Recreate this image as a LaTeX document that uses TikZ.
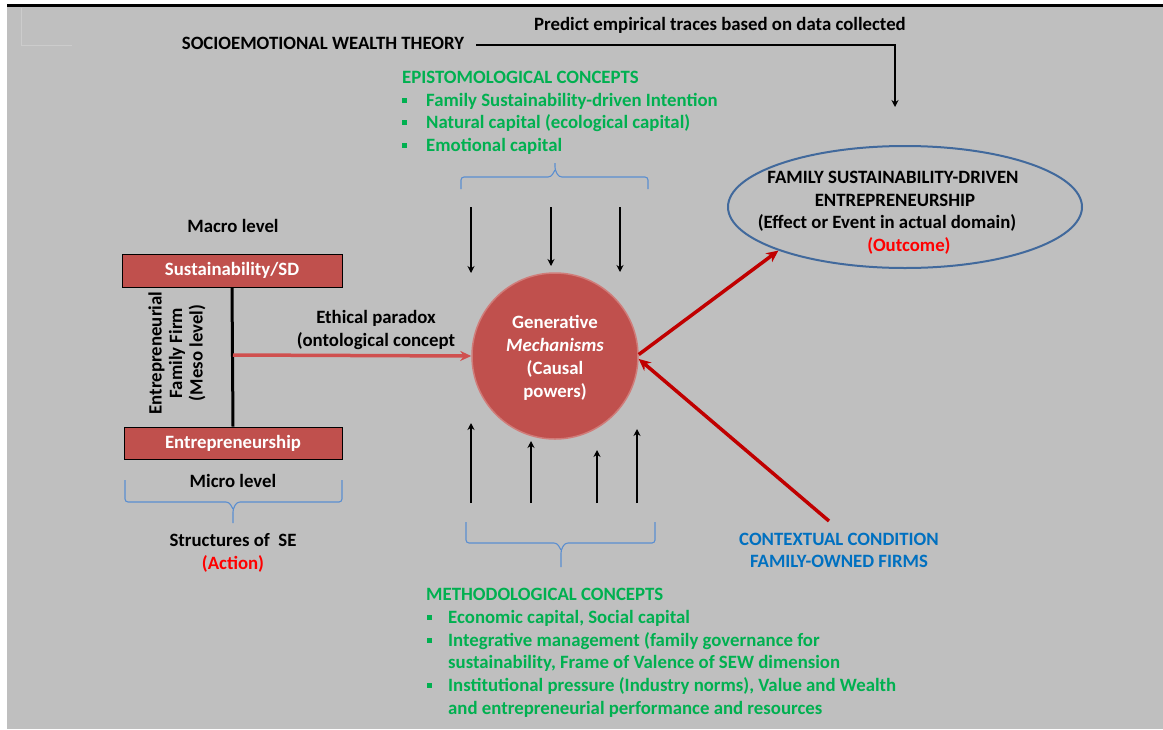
\documentclass[tikz,border=0pt]{standalone}
\usepackage{fontspec}
\setmainfont{Carlito}
\usetikzlibrary{arrows.meta,shapes.geometric}
\definecolor{bg}{HTML}{BFBFBF}
\definecolor{boxred}{HTML}{C0504D}
\definecolor{ethred}{HTML}{D0504F}
\definecolor{darkred}{HTML}{C00000}
\definecolor{grn}{HTML}{00B050}
\definecolor{ctxblue}{HTML}{0070C0}
\definecolor{ellblue}{HTML}{41699C}
\definecolor{brblue}{HTML}{5A8ED0}
\tikzset{
  txt/.style={font=\bfseries\fontsize{18.8}{20.5}\selectfont, inner sep=0pt, anchor=base},
  gtxt/.style={txt, text=grn, anchor=base west},
  redbox/.style={draw=black, line width=1, fill=boxred, text=white, inner sep=0pt, font=\bfseries\fontsize{18.8}{20.5}\selectfont},
  blk/.style={line width=2.6, -{Stealth[length=7pt,width=7pt]}},
  brace/.style={draw=brblue, line width=1.1, rounded corners=3pt},
  redarr/.style={darkred, line width=3.5, -{Stealth[length=12pt,width=11pt]}},
}
\begin{document}
\begin{tikzpicture}[x=1pt,y=-1pt]
\useasboundingbox (0,0) rectangle (1163,729);
\fill[white] (0,0) rectangle (1163,729);
\fill[bg] (7,7) rectangle (1163,729);
\draw[line width=3] (7,5.5) -- (1163,5.5);
\draw[bg!80!white, line width=0.8] (21,8) -- (21,45) -- (72,45);

% top
\node[txt] (sew) at (323,49) {SOCIOEMOTIONAL WEALTH THEORY};
\node[txt] (pred) at (720,30) {Predict empirical traces based on data collected};
\coordinate (sewtip) at (895,107);
\draw[blk] (476,45) coordinate (sewstart) -| (sewtip);

% epistemological
\node[txt, text=grn, anchor=base west] (epi) at (402,83) {EPISTOMOLOGICAL CONCEPTS};
\node[gtxt] (e1) at (426,106) {Family Sustainability-driven Intention};
\node[gtxt] (e2) at (426,128) {Natural capital (ecological capital)};
\node[gtxt] (e3) at (426,151) {Emotional capital};
\foreach \yy in {100,122,145} \fill[grn] (402,\yy-2.5) rectangle ++(5,5);
% top brace
\draw[brace] (461,189) -- (461,177) -- (551,177) -- (555,170);
\draw[brace] (555,163) -- (555,170) -- (559,177) -- (648,177) -- (648,189);

% down arrows
\coordinate (d1s) at (471,207); \coordinate (d1e) at (471,273);
\coordinate (d2s) at (551,207); \coordinate (d2e) at (551,266);
\coordinate (d3s) at (620,207); \coordinate (d3e) at (620,272);
\draw[blk] (d1s) -- (d1e);
\draw[blk] (d2s) -- (d2e);
\draw[blk] (d3s) -- (d3e);

% circle
\node[circle, fill=boxred, draw=boxred!75!white, line width=1.5, minimum size=166, inner sep=0pt] (gm) at (555,356) {};
\node[txt, text=white] (g1) at (555,328) {Generative};
\node[txt, text=white] (g2) at (555,351) {\itshape Mechanisms};
\node[txt, text=white] (g3) at (555,374) {(Causal};
\node[txt, text=white] (g4) at (555,397) {powers)};

% up arrows
\coordinate (u1s) at (471,503); \coordinate (u1e) at (471,423);
\coordinate (u2s) at (531,503); \coordinate (u2e) at (531,441);
\coordinate (u3s) at (597,503); \coordinate (u3e) at (597,450);
\coordinate (u4s) at (637,503); \coordinate (u4e) at (637,429);
\draw[blk] (u1s) -- (u1e);
\draw[blk] (u2s) -- (u2e);
\draw[blk] (u3s) -- (u3e);
\draw[blk] (u4s) -- (u4e);
% bottom brace
\draw[brace] (466,522) -- (466,543) -- (557,543) -- (561,550);
\draw[brace] (561,567) -- (561,550) -- (565,543) -- (655,543) -- (655,522);

% methodological
\node[txt, text=grn, anchor=base west] (met) at (426,600) {METHODOLOGICAL CONCEPTS};
\node[gtxt] (m1) at (448,623) {Economic capital, Social capital};
\node[gtxt] (m2) at (448,646) {Integrative management (family governance for};
\node[gtxt] (m2b) at (448,668) {sustainability, Frame of Valence of SEW dimension};
\node[gtxt] (m3) at (448,691) {Institutional pressure (Industry norms), Value and Wealth};
\node[gtxt] (m3b) at (448,714) {and entrepreneurial performance and resources};
\foreach \yy in {617,640,685} \fill[grn] (427,\yy-2.5) rectangle ++(5,5);

% left block
\node[txt] (macro) at (233,232) {Macro level};
\node[redbox, minimum width=220, minimum height=33] (sus) at (232,270.5) {Sustainability/SD};
\node[redbox, minimum width=218, minimum height=32] (ent) at (233,443) {Entrepreneurship};
\draw[line width=3] (sus.south) -- (ent.north);
\node[txt, rotate=90, align=center, anchor=center] (meso) at (177,353) {Entrepreneurial\\Family Firm\\(Meso level)};
\coordinate (mid) at (233,355);
\draw[ethred, line width=3.5, -{Stealth[length=11pt,width=10pt]}] (mid) -- (gm.west);
\node[txt] (eth1) at (376,323) {Ethical paradox};
\node[txt] (eth2) at (376,346) {(ontological concept};
\node[txt] (micro) at (233,487) {Micro level};
\draw[brace] (125,480) -- (125,502) -- (229,502) -- (233,509);
\draw[brace] (233,523) -- (233,509) -- (237,502) -- (342,502) -- (342,480);
\node[txt] (struct) at (233,546) {Structures of ~SE};
\node[txt, text=red] (action) at (233,569) {(Action)};

% ellipse
\node[ellipse, draw=ellblue, line width=2, minimum width=354, minimum height=122, inner sep=0pt] (out) at (905,207) {};
\node[txt] (o1) at (893,183) {FAMILY SUSTAINABILITY-DRIVEN};
\node[txt] (o2) at (895,206) {ENTREPRENEURSHIP};
\node[txt] (o3) at (887,228) {(Effect or Event in actual domain)};
\node[txt, text=red] (o4) at (909,251) {(Outcome)};

% red arrows
\draw[redarr] (gm.1) -- (out.199);
\node[txt, text=ctxblue] (ctx1) at (839,545) {CONTEXTUAL CONDITION};
\node[txt, text=ctxblue] (ctx2) at (839,567) {FAMILY-OWNED FIRMS};
\coordinate (ctxs) at (829,521);
\draw[redarr] (ctxs) -- (gm.-2);
\end{tikzpicture}
\end{document}
